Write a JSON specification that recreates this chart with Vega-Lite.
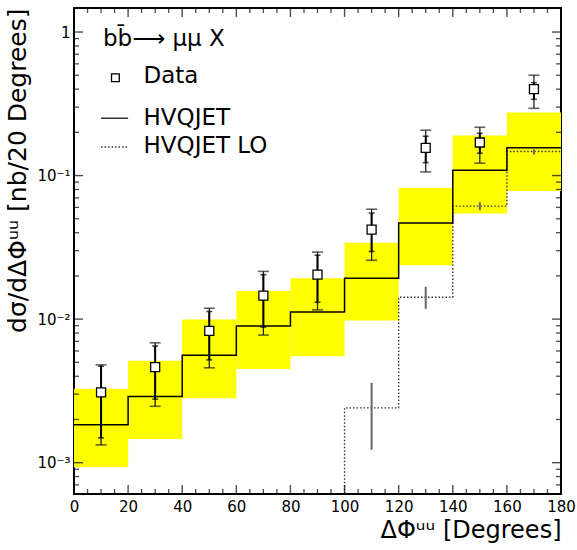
{
  "$schema": "https://vega.github.io/schema/vega-lite/v6.json",
  "width": 487,
  "height": 486,
  "autosize": {"type": "none"},
  "padding": {"left": 74, "top": 8, "right": 16, "bottom": 56},
  "background": "white",
  "config": {
    "view": {"stroke": "black", "strokeWidth": 2},
    "font": "DejaVu Sans",
    "axis": {"labelFont": "DejaVu Sans", "titleFont": "DejaVu Sans", "labelColor": "black", "titleColor": "black", "titleFontWeight": "normal", "grid": false, "domain": false, "ticks": false, "labelOverlap": false, "labelFlush": false}
  },
  "datasets": {
    "bins": [
      {"lo": 0, "hi": 20, "band_lo": 0.000929, "band_hi": 0.00327},
      {"lo": 20, "hi": 40, "band_lo": 0.00146, "band_hi": 0.00513},
      {"lo": 40, "hi": 60, "band_lo": 0.00281, "band_hi": 0.00993},
      {"lo": 60, "hi": 80, "band_lo": 0.0045, "band_hi": 0.0157},
      {"lo": 80, "hi": 100, "band_lo": 0.00552, "band_hi": 0.0193},
      {"lo": 100, "hi": 120, "band_lo": 0.0098, "band_hi": 0.0341},
      {"lo": 120, "hi": 140, "band_lo": 0.0237, "band_hi": 0.0822},
      {"lo": 140, "hi": 160, "band_lo": 0.0545, "band_hi": 0.19},
      {"lo": 160, "hi": 180, "band_lo": 0.078, "band_hi": 0.275}
    ],
    "steps": [
      {"x": 0, "nlo": 0.00184, "lo": null},
      {"x": 20, "nlo": 0.00289, "lo": null},
      {"x": 40, "nlo": 0.00561, "lo": null},
      {"x": 60, "nlo": 0.00897, "lo": null},
      {"x": 80, "nlo": 0.0112, "lo": 0.0003},
      {"x": 100, "nlo": 0.0193, "lo": 0.00241},
      {"x": 120, "nlo": 0.0468, "lo": 0.0142},
      {"x": 140, "nlo": 0.109, "lo": 0.0613},
      {"x": 160, "nlo": 0.156, "lo": 0.147},
      {"x": 180, "nlo": 0.156, "lo": 0.147}
    ],
    "lo_err": [
      {"x": 110, "lo": 0.00123, "hi": 0.0036},
      {"x": 130, "lo": 0.0118, "hi": 0.0168},
      {"x": 150, "lo": 0.0573, "hi": 0.0653},
      {"x": 170, "lo": 0.14, "hi": 0.152}
    ],
    "points": [
      {"x": 10, "y": 0.00309, "stat_lo": 0.00149, "stat_hi": 0.0047, "tot_lo": 0.00133, "tot_hi": 0.0048},
      {"x": 30, "y": 0.00463, "stat_lo": 0.00277, "stat_hi": 0.0065, "tot_lo": 0.00247, "tot_hi": 0.00684},
      {"x": 50, "y": 0.00828, "stat_lo": 0.0052, "stat_hi": 0.0113, "tot_lo": 0.00458, "tot_hi": 0.0119},
      {"x": 70, "y": 0.0146, "stat_lo": 0.0088, "stat_hi": 0.0204, "tot_lo": 0.00774, "tot_hi": 0.0215},
      {"x": 90, "y": 0.0204, "stat_lo": 0.0131, "stat_hi": 0.0279, "tot_lo": 0.0116, "tot_hi": 0.0293},
      {"x": 110, "y": 0.042, "stat_lo": 0.0296, "stat_hi": 0.0548, "tot_lo": 0.0257, "tot_hi": 0.0583},
      {"x": 130, "y": 0.156, "stat_lo": 0.123, "stat_hi": 0.188, "tot_lo": 0.106, "tot_hi": 0.207},
      {"x": 150, "y": 0.17, "stat_lo": 0.143, "stat_hi": 0.197, "tot_lo": 0.122, "tot_hi": 0.217},
      {"x": 170, "y": 0.4, "stat_lo": 0.34, "stat_hi": 0.444, "tot_lo": 0.294, "tot_hi": 0.5}
    ],
    "legend_text": [
      {"x": 10.7, "y": 0.898, "label": "bb̄⟶ μμ X"},
      {"x": 25.7, "y": 0.494, "label": "Data"},
      {"x": 25.7, "y": 0.251, "label": "HVQJET"},
      {"x": 25.7, "y": 0.16, "label": "HVQJET LO"}
    ],
    "legend_lines": [
      {"x": 10, "x2": 20, "y": 0.251, "style": "HVQJET"},
      {"x": 10, "x2": 20, "y": 0.158, "style": "HVQJET LO"}
    ],
    "legend_sq": [
      {"x": 15.3, "y": 0.48}
    ],
    "x_major": [{"v": 0}, {"v": 20}, {"v": 40}, {"v": 60}, {"v": 80}, {"v": 100}, {"v": 120}, {"v": 140}, {"v": 160}, {"v": 180}],
    "x_minor": [{"v": 5}, {"v": 10}, {"v": 15}, {"v": 25}, {"v": 30}, {"v": 35}, {"v": 45}, {"v": 50}, {"v": 55}, {"v": 65}, {"v": 70}, {"v": 75}, {"v": 85}, {"v": 90}, {"v": 95}, {"v": 105}, {"v": 110}, {"v": 115}, {"v": 125}, {"v": 130}, {"v": 135}, {"v": 145}, {"v": 150}, {"v": 155}, {"v": 165}, {"v": 170}, {"v": 175}],
    "y_major": [{"v": 0.001}, {"v": 0.01}, {"v": 0.1}, {"v": 1}],
    "y_minor": [{"v": 0.0007}, {"v": 0.0008}, {"v": 0.0009}, {"v": 0.002}, {"v": 0.003}, {"v": 0.004}, {"v": 0.005}, {"v": 0.006}, {"v": 0.007}, {"v": 0.008}, {"v": 0.009}, {"v": 0.02}, {"v": 0.03}, {"v": 0.04}, {"v": 0.05}, {"v": 0.06}, {"v": 0.07}, {"v": 0.08}, {"v": 0.09}, {"v": 0.2}, {"v": 0.3}, {"v": 0.4}, {"v": 0.5}, {"v": 0.6}, {"v": 0.7}, {"v": 0.8}, {"v": 0.9}]
  },
  "layer": [
    {
      "data": {"name": "bins"},
      "mark": {"type": "rect", "color": "#ffff00"},
      "encoding": {
        "x": {"field": "lo", "type": "quantitative",
          "scale": {"domain": [0, 180], "nice": false, "zero": false},
          "axis": {"orient": "bottom",
            "values": [0,20,40,60,80,100,120,140,160,180],
            "labelPadding": 5, "labelFontSize": 15,
            "title": "ΔΦᵘᵘ [Degrees]", "titleFontSize": 24, "titleAnchor": "end", "titlePadding": 4}},
        "x2": {"field": "hi"},
        "y": {"field": "band_lo", "type": "quantitative",
          "scale": {"type": "log", "domain": [0.000605, 1.47], "nice": false},
          "axis": {"orient": "left",
            "values": [0.001, 0.01, 0.1, 1],
            "labelExpr": "datum.value == 1 ? '1' : datum.value == 0.1 ? '10⁻¹' : datum.value == 0.01 ? '10⁻²' : '10⁻³'",
            "labelPadding": 4, "labelFontSize": 15, "labelBaseline": "middle",
            "title": "dσ/dΔΦᵘᵘ [nb/20 Degrees]", "titleFontSize": 25, "titleAnchor": "end", "titlePadding": 6}},
        "y2": {"field": "band_hi"}
      }
    },
    {
      "data": {"name": "steps"},
      "transform": [{"filter": "datum.lo != null"}],
      "mark": {"type": "line", "interpolate": "step-after", "clip": true, "color": "#333333", "strokeWidth": 1.4, "strokeDash": [1.5, 2]},
      "encoding": {
        "x": {"field": "x", "type": "quantitative"},
        "y": {"field": "lo", "type": "quantitative", "scale": {"type": "log"}}
      }
    },
    {
      "data": {"name": "lo_err"},
      "mark": {"type": "rule", "color": "#666666", "strokeWidth": 2},
      "encoding": {
        "x": {"field": "x", "type": "quantitative"},
        "y": {"field": "lo", "type": "quantitative", "scale": {"type": "log"}},
        "y2": {"field": "hi"}
      }
    },
    {
      "data": {"name": "steps"},
      "mark": {"type": "line", "interpolate": "step-after", "clip": true, "color": "black", "strokeWidth": 1.5},
      "encoding": {
        "x": {"field": "x", "type": "quantitative"},
        "y": {"field": "nlo", "type": "quantitative", "scale": {"type": "log"}}
      }
    },
    {
      "data": {"name": "points"},
      "mark": {"type": "rule", "color": "#222222", "strokeWidth": 1.3},
      "encoding": {
        "x": {"field": "x", "type": "quantitative"},
        "y": {"field": "tot_lo", "type": "quantitative", "scale": {"type": "log"}},
        "y2": {"field": "tot_hi"}
      }
    },
    {
      "data": {"name": "points"},
      "mark": {"type": "rule", "color": "black", "strokeWidth": 2},
      "encoding": {
        "x": {"field": "x", "type": "quantitative"},
        "y": {"field": "stat_lo", "type": "quantitative", "scale": {"type": "log"}},
        "y2": {"field": "stat_hi"}
      }
    },
    {
      "data": {"name": "points"},
      "transform": [{"fold": ["tot_lo", "tot_hi"], "as": ["kind", "v"]}],
      "mark": {"type": "tick", "orient": "horizontal", "color": "#222222", "size": 11, "thickness": 1.6},
      "encoding": {
        "x": {"field": "x", "type": "quantitative"},
        "y": {"field": "v", "type": "quantitative", "scale": {"type": "log"}}
      }
    },
    {
      "data": {"name": "points"},
      "transform": [{"fold": ["stat_lo", "stat_hi"], "as": ["kind", "v"]}],
      "mark": {"type": "tick", "orient": "horizontal", "color": "black", "size": 6, "thickness": 1.6},
      "encoding": {
        "x": {"field": "x", "type": "quantitative"},
        "y": {"field": "v", "type": "quantitative", "scale": {"type": "log"}}
      }
    },
    {
      "data": {"name": "points"},
      "mark": {"type": "point", "shape": "square", "size": 81, "filled": false, "fill": "white", "fillOpacity": 1, "stroke": "black", "strokeWidth": 1.3, "opacity": 1},
      "encoding": {
        "x": {"field": "x", "type": "quantitative"},
        "y": {"field": "y", "type": "quantitative", "scale": {"type": "log"}}
      }
    },
    {
      "data": {"name": "legend_lines"},
      "mark": {"type": "rule", "color": "#333333", "strokeWidth": 1.4},
      "encoding": {
        "x": {"field": "x", "type": "quantitative"},
        "x2": {"field": "x2"},
        "y": {"field": "y", "type": "quantitative", "scale": {"type": "log"}},
        "strokeDash": {"field": "style", "type": "nominal", "scale": {"domain": ["HVQJET", "HVQJET LO"], "range": [[1, 0], [1.5, 2]]}, "legend": null}
      }
    },
    {
      "data": {"name": "legend_sq"},
      "mark": {"type": "point", "shape": "square", "size": 60, "filled": false, "stroke": "black", "strokeWidth": 1.3, "opacity": 1},
      "encoding": {
        "x": {"field": "x", "type": "quantitative"},
        "y": {"field": "y", "type": "quantitative", "scale": {"type": "log"}}
      }
    },
    {
      "data": {"name": "legend_text"},
      "mark": {"type": "text", "align": "left", "baseline": "middle", "fontSize": 23, "color": "black", "font": "DejaVu Sans"},
      "encoding": {
        "x": {"field": "x", "type": "quantitative"},
        "y": {"field": "y", "type": "quantitative", "scale": {"type": "log"}},
        "text": {"field": "label"}
      }
    },
    {
      "data": {"name": "x_major"},
      "mark": {"type": "tick", "orient": "vertical", "clip": true, "color": "black", "size": 18, "thickness": 1.4},
      "encoding": {
        "x": {"field": "v", "type": "quantitative"},
        "y": {"datum": 0.000605, "type": "quantitative", "scale": {"type": "log"}}
      }
    },
    {
      "data": {"name": "x_major"},
      "mark": {"type": "tick", "orient": "vertical", "clip": true, "color": "black", "size": 18, "thickness": 1.4},
      "encoding": {
        "x": {"field": "v", "type": "quantitative"},
        "y": {"datum": 1.47, "type": "quantitative", "scale": {"type": "log"}}
      }
    },
    {
      "data": {"name": "x_minor"},
      "mark": {"type": "tick", "orient": "vertical", "clip": true, "color": "black", "size": 10, "thickness": 1.3},
      "encoding": {
        "x": {"field": "v", "type": "quantitative"},
        "y": {"datum": 0.000605, "type": "quantitative", "scale": {"type": "log"}}
      }
    },
    {
      "data": {"name": "x_minor"},
      "mark": {"type": "tick", "orient": "vertical", "clip": true, "color": "black", "size": 10, "thickness": 1.3},
      "encoding": {
        "x": {"field": "v", "type": "quantitative"},
        "y": {"datum": 1.47, "type": "quantitative", "scale": {"type": "log"}}
      }
    },
    {
      "data": {"name": "y_major"},
      "mark": {"type": "tick", "orient": "horizontal", "clip": true, "color": "black", "size": 18, "thickness": 1.4},
      "encoding": {
        "x": {"datum": 0, "type": "quantitative"},
        "y": {"field": "v", "type": "quantitative", "scale": {"type": "log"}}
      }
    },
    {
      "data": {"name": "y_major"},
      "mark": {"type": "tick", "orient": "horizontal", "clip": true, "color": "black", "size": 18, "thickness": 1.4},
      "encoding": {
        "x": {"datum": 180, "type": "quantitative"},
        "y": {"field": "v", "type": "quantitative", "scale": {"type": "log"}}
      }
    },
    {
      "data": {"name": "y_minor"},
      "mark": {"type": "tick", "orient": "horizontal", "clip": true, "color": "black", "size": 10, "thickness": 1.3},
      "encoding": {
        "x": {"datum": 0, "type": "quantitative"},
        "y": {"field": "v", "type": "quantitative", "scale": {"type": "log"}}
      }
    },
    {
      "data": {"name": "y_minor"},
      "mark": {"type": "tick", "orient": "horizontal", "clip": true, "color": "black", "size": 10, "thickness": 1.3},
      "encoding": {
        "x": {"datum": 180, "type": "quantitative"},
        "y": {"field": "v", "type": "quantitative", "scale": {"type": "log"}}
      }
    }
  ]
}
